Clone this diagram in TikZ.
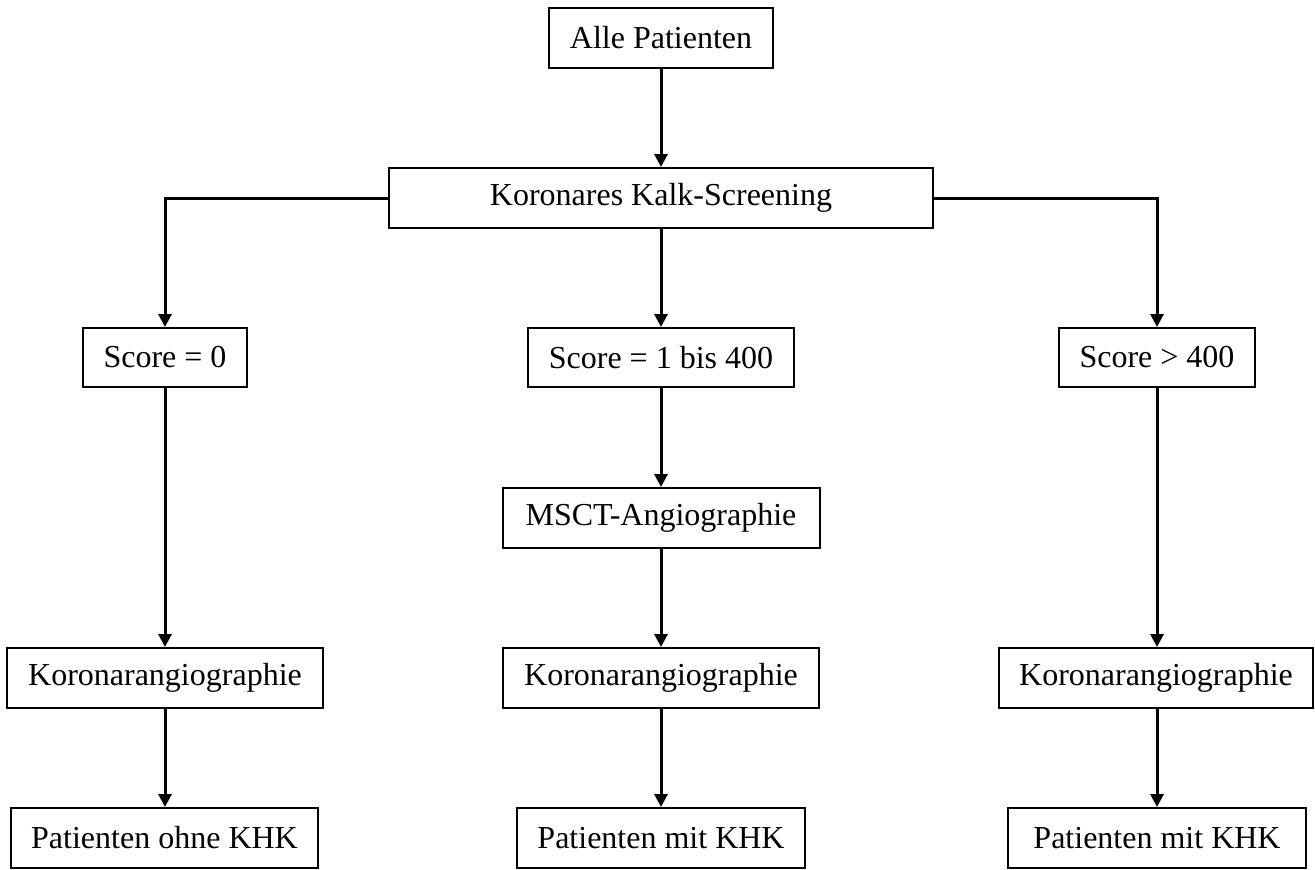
\documentclass[tikz,border=0pt]{standalone}
\usepackage{fontspec}
\setmainfont{Liberation Serif}
\usetikzlibrary{arrows.meta}
\begin{document}
\begin{tikzpicture}[x=1pt,y=-1pt,
  box/.style={draw=black,line width=2pt,inner sep=0pt,minimum height=60pt,font=\fontsize{32}{38}\selectfont},
  arr/.style={line width=3pt,-{Triangle[width=13pt,length=13pt]}}]
\useasboundingbox (0,0) rectangle (1315,870);
\node[box,minimum width=224pt] (A) at (661,38) {Alle Patienten};
\node[box,minimum width=544pt] (K) at (661,198) {Koronares Kalk-Screening};
\node[box,minimum width=164pt,minimum height=59pt] (S0) at (165,357.5) {Score = 0};
\node[box,minimum width=266pt,minimum height=59pt] (S1) at (661,357.5) {Score = 1 bis 400};
\node[box,minimum width=196pt,minimum height=59pt] (S2) at (1157,357.5) {Score > 400};
\node[box,minimum width=317pt] (M) at (661,518) {MSCT-Angiographie};
\node[box,minimum width=316pt] (KL) at (165,678) {Koronarangiographie};
\node[box,minimum width=316pt] (KM) at (661,678) {Koronarangiographie};
\node[box,minimum width=314pt] (KR) at (1156,678) {Koronarangiographie};
\node[box,minimum width=307pt] (PL) at (164.5,838) {Patienten ohne KHK};
\node[box,minimum width=288pt] (PM) at (661,838) {Patienten mit KHK};
\node[box,minimum width=298pt] (PR) at (1157,838) {Patienten mit KHK};
\draw[arr] (A.south) -- (K.north);
\draw[arr] (K.west) -| (S0.north);
\draw[arr] (K.east) -| (S2.north);
\draw[arr] (K.south) -- (S1.north);
\draw[arr] (S1.south) -- (M.north -| S1.south);
\draw[arr] (M.south -| S1.south) -- (KM.north);
\draw[arr] (KM.south) -- (PM.north);
\draw[arr] (S0.south) -- (KL.north -| S0.south);
\draw[arr] (KL.south) -- (PL.north -| KL.south);
\draw[arr] (S2.south) -- (KR.north -| S2.south);
\draw[arr] (KR.south -| S2.south) -- (PR.north);
\end{tikzpicture}
\end{document}
